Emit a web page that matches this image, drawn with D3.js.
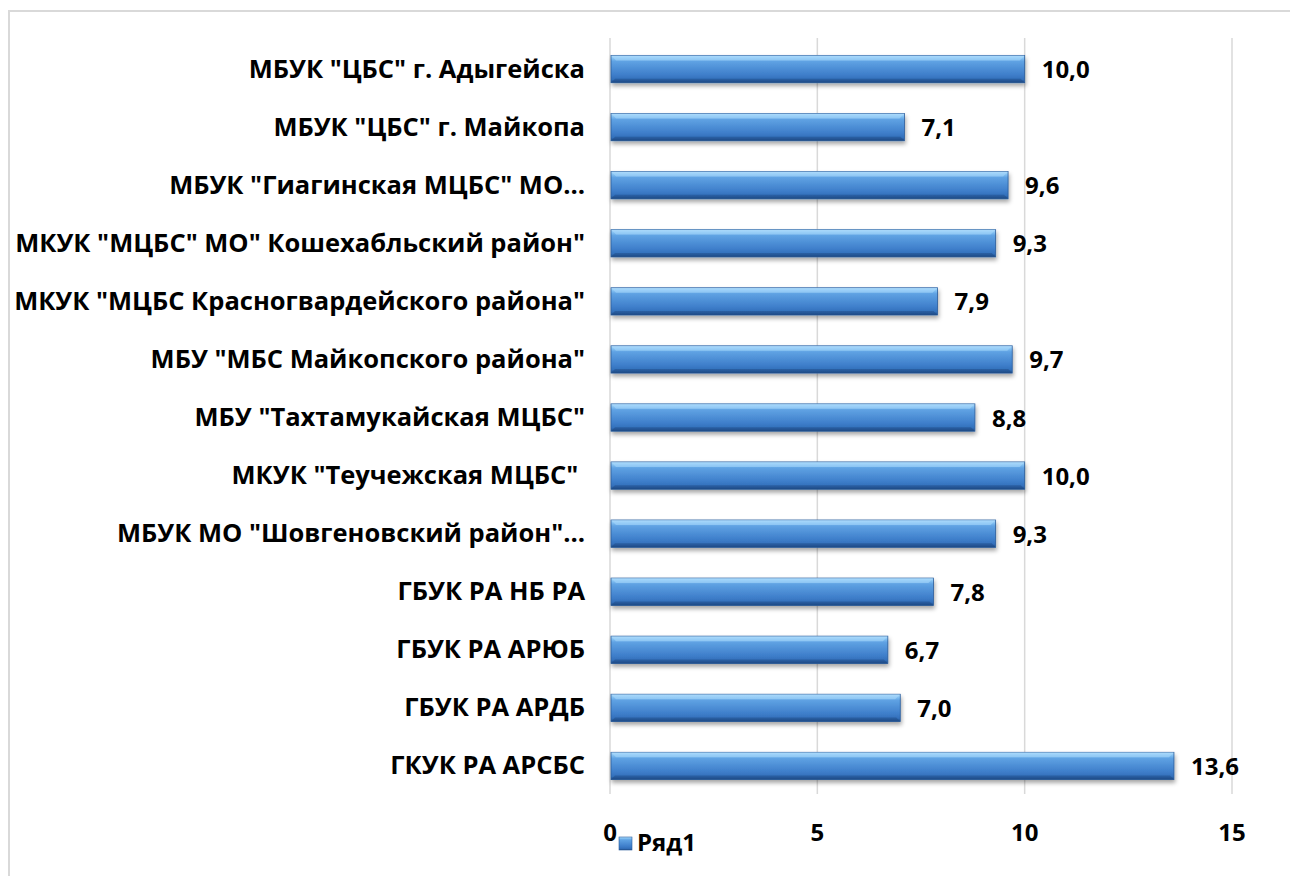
<!DOCTYPE html>
<html>
<head>
<meta charset="utf-8">
<script src="https://cdn.jsdelivr.net/npm/d3@7"></script>
<style>
    html, body { margin: 0; padding: 0; background: #fff; }
    svg { display: block; font-family: "Open Sans", "Liberation Sans", sans-serif; font-weight: bold; }
    .grid line { stroke: #d9d9d9; stroke-width: 1.5; }
    .cat-label { font-size: 25.5px; fill: #000; white-space: pre; }
    .val-label { font-size: 24px; fill: #000; }
    .tick-label { font-size: 24px; fill: #000; }
</style>
</head>
<body>
<svg id="chart" width="1290" height="876"></svg>
<script>
// data
const categories = [
    'МБУК "ЦБС" г. Адыгейска',
    'МБУК "ЦБС" г. Майкопа',
    'МБУК "Гиагинская МЦБС" МО…',
    'МКУК "МЦБС" МО" Кошехабльский район"',
    'МКУК "МЦБС Красногвардейского района"',
    'МБУ "МБС Майкопского района"',
    'МБУ "Тахтамукайская МЦБС"',
    'МКУК "Теучежская МЦБС" ',
    'МБУК МО "Шовгеновский район"…',
    'ГБУК РА НБ РА',
    'ГБУК РА АРЮБ',
    'ГБУК РА АРДБ',
    'ГКУК РА АРСБС'
];
const values = [10.0, 7.1, 9.6, 9.3, 7.9, 9.7, 8.8, 10.0, 9.3, 7.8, 6.7, 7.0, 13.6];
const tickValues = [0, 5, 10, 15];
const seriesName = 'Ряд1';

const svg = d3.select('#chart');

// outer frame (only top and left edges visible)
svg.append('path')
    .attr('d', 'M9,876 V11 H1290')
    .attr('fill', 'none')
    .attr('stroke', '#d9d9d9')
    .attr('stroke-width', 2);

const defs = svg.append('defs');
const grad = defs.append('linearGradient')
    .attr('id', 'barGrad')
    .attr('x1', 0).attr('y1', 0).attr('x2', 0).attr('y2', 1);
[['0%', '#b4defc'], ['10%', '#86c3f3'], ['22%', '#5fa2e3'], ['70%', '#3f7fcb'], ['88%', '#3370bb'], ['100%', '#1f4c88']]
    .forEach(([o, c]) => grad.append('stop').attr('offset', o).attr('stop-color', c));

const shadow = defs.append('filter').attr('id', 'shadow')
    .attr('x', '-5%').attr('y', '-20%').attr('width', '110%').attr('height', '160%');
shadow.append('feDropShadow')
    .attr('dx', 1).attr('dy', 3).attr('stdDeviation', 2)
    .attr('flood-color', '#000').attr('flood-opacity', 0.35);

const x = d3.scaleLinear().domain([0, 15]).range([610, 1232]);
const y = d3.scaleBand().domain(categories).range([40, 795]).paddingInner(0.53).paddingOuter(0.265);

// gridlines
svg.append('g').attr('class', 'grid')
    .selectAll('line')
    .data(tickValues)
    .enter()
    .append('line')
    .attr('x1', d => x(d)).attr('x2', d => x(d))
    .attr('y1', 38).attr('y2', 794);

// bars
const bars = svg.append('g').selectAll('g.bar')
    .data(categories)
    .enter()
    .append('g')
    .attr('class', 'bar');

bars.append('rect')
    .attr('x', x(0) + 1)
    .attr('y', d => y(d))
    .attr('width', (d, i) => x(values[i]) - x(0) - 1)
    .attr('height', y.bandwidth())
    .attr('fill', 'url(#barGrad)')
    .attr('stroke', '#2b5d9c')
    .attr('stroke-width', 0.8)
    .attr('filter', 'url(#shadow)');

// bevel highlight on top edge
bars.append('path')
    .attr('d', (d, i) => {
        const x0 = x(0) + 1, x1 = x(values[i]), y0 = y(d), b = 5;
        return `M${x0},${y0} L${x1},${y0} L${x1 - b},${y0 + b} L${x0 + b},${y0 + b} Z`;
    })
    .attr('fill', '#a9d8fb')
    .attr('opacity', 0.55);

// darker bevel on bottom edge
bars.append('path')
    .attr('d', (d, i) => {
        const x0 = x(0) + 1, x1 = x(values[i]), y1 = y(d) + y.bandwidth(), b = 4;
        return `M${x0},${y1} L${x1},${y1} L${x1 - b},${y1 - b} L${x0 + b},${y1 - b} Z`;
    })
    .attr('fill', '#1d4780')
    .attr('opacity', 0.45);

// value labels
bars.append('text')
    .attr('class', 'val-label')
    .attr('x', (d, i) => x(values[i]) + 17)
    .attr('y', d => y(d) + y.bandwidth() / 2 + 9)
    .text((d, i) => values[i].toFixed(1).replace('.', ','));

// category labels
svg.append('g').selectAll('text')
    .data(categories)
    .enter()
    .append('text')
    .attr('class', 'cat-label')
    .attr('x', 585)
    .attr('y', d => y(d) + y.bandwidth() / 2 + 8.5)
    .attr('text-anchor', 'end')
    .text(d => d);

// x axis tick labels
svg.append('g').selectAll('text')
    .data(tickValues)
    .enter()
    .append('text')
    .attr('class', 'tick-label')
    .attr('x', d => x(d))
    .attr('y', 841)
    .attr('text-anchor', 'middle')
    .text(d => d);

// legend
const legend = svg.append('g');
legend.append('rect')
    .attr('x', 619).attr('y', 837).attr('width', 13).attr('height', 13)
    .attr('fill', 'url(#barGrad)')
    .attr('stroke', '#2b5d9c').attr('stroke-width', 0.6);
legend.append('text')
    .attr('class', 'tick-label')
    .attr('x', 637).attr('y', 851)
    .attr('font-size', 23)
    .text(seriesName);
</script>
</body>
</html>
